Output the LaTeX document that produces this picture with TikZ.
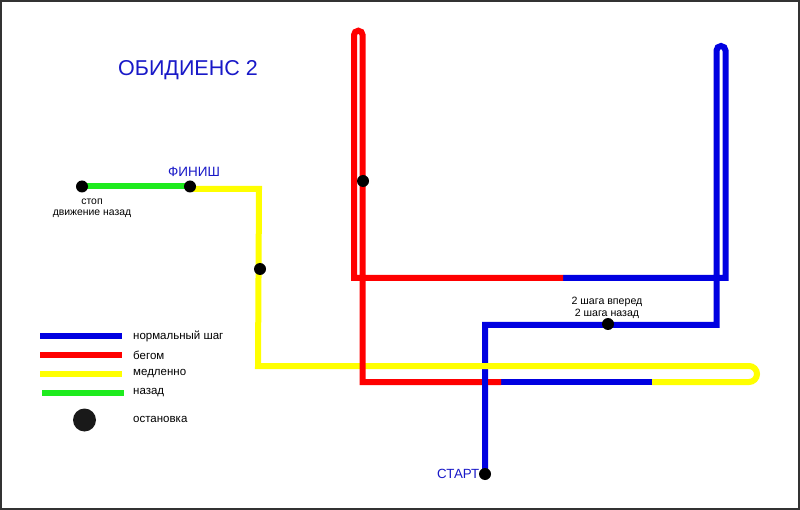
\documentclass[tikz,border=0pt]{standalone}
\usepackage{fontspec}
\setmainfont{Liberation Sans}
\definecolor{rblue}{RGB}{0,0,225}
\definecolor{rred}{RGB}{255,0,0}
\definecolor{ryellow}{RGB}{255,255,0}
\definecolor{rgreen}{RGB}{30,235,30}
\definecolor{tblue}{RGB}{25,25,200}
\begin{document}
\begin{tikzpicture}[x=1pt,y=-1pt,
  route/.style={line width=6pt,line join=miter},
  stopdot/.style={circle,fill=black,inner sep=0pt,minimum size=12pt},
  lbl/.style={font=\fontsize{11.5}{13}\selectfont,text=black,inner sep=0pt},
  ttl/.style={text=tblue,inner sep=0pt}]
\useasboundingbox (0,0) rectangle (800,510);
\fill[white] (0,0) rectangle (800,510);
\draw[line width=2pt,black!80] (1,1) rectangle (799,509);
% coordinates
\coordinate (S) at (485,474);
\coordinate (b1) at (485,325);
\coordinate (b2) at (716.5,325);
\coordinate (b3) at (716.5,50.5);
\coordinate (b4) at (725.5,278);
\coordinate (rb) at (563,278);
\coordinate (r1) at (354,278);
\coordinate (r2) at (354,35);
\coordinate (r3) at (362.6,382);
\coordinate (rbb) at (501,382);
\coordinate (by) at (652,382);
\coordinate (y1) at (749,382);
\coordinate (y2) at (258,366);
\coordinate (y3) at (259,189);
\coordinate (F) at (190,186.5);
\coordinate (Fy) at (190,189);
\coordinate (G) at (82,186.5);
% blue
\draw[route,rblue] (S) -- (b1) -- (b2) -- (b3) arc (180:360:4.5) -- (b4) -- (rb);
\draw[route,rblue] (rbb) -- (by);
% yellow
\draw[route,ryellow] (by) -- (y1) arc (90:-90:8) -- (y2) -- (y3) -- (Fy);
% red
\draw[route,rred] (rb) -- (r1) -- (r2) arc (180:360:4.3) -- (r3) -- (rbb);
% blue over red at crossing
\draw[line width=6pt,rblue] (485,376) -- (485,392);
% green
\draw[route,rgreen] (F) -- (G);
% stops
\node[stopdot] (d1) at (363,181) {};
\node[stopdot] (d2) at (260,269) {};
\node[stopdot] (d3) at (608,324) {};
\node[stopdot] (dF) at (F) {};
\node[stopdot] (dG) at (G) {};
\node[stopdot] (dS) at (S) {};
% texts
\node[ttl,font=\fontsize{21.5}{24}\selectfont] (title) at (188,70) {ОБИДИЕНС 2};
\node[ttl,font=\fontsize{13.5}{15}\selectfont] (fin) at (194,172) {ФИНИШ};
\node[ttl,font=\fontsize{13.3}{15}\selectfont,anchor=east] (start) at (479.5,474) {СТАРТ};
\node[lbl,font=\fontsize{10.4}{12}\selectfont] (stop) at (92,202) {стоп};
\node[lbl,font=\fontsize{10.4}{12}\selectfont] (back) at (92,214) {движение назад};
\node[lbl,font=\fontsize{10.6}{12}\selectfont] (fw) at (607,302) {2 шага вперед};
\node[lbl,font=\fontsize{10.6}{12}\selectfont] (bw) at (607,313.5) {2 шага назад};
% legend
\coordinate (L1a) at (40,336); \coordinate (L1b) at (122,336);
\coordinate (L2a) at (40,355); \coordinate (L2b) at (122,355);
\coordinate (L3a) at (40,373.5); \coordinate (L3b) at (122,373.5);
\coordinate (L4a) at (42,393); \coordinate (L4b) at (124,393);
\draw[route,rblue] (L1a) -- (L1b);
\draw[route,rred] (L2a) -- (L2b);
\draw[route,ryellow] (L3a) -- (L3b);
\draw[route,rgreen] (L4a) -- (L4b);
\node[circle,fill=black!90,inner sep=0pt,minimum size=23pt] (Ld) at (84.5,420) {};
\node[lbl,anchor=west] (t1) at (133,336) {нормальный шаг};
\node[lbl,anchor=west] (t2) at (133,355) {бегом};
\node[lbl,anchor=west] (t3) at (133,374) {медленно};
\node[lbl,anchor=west] (t4) at (133,393) {назад};
\node[lbl,anchor=west] (t5) at (133,419) {остановка};
\end{tikzpicture}
\end{document}
